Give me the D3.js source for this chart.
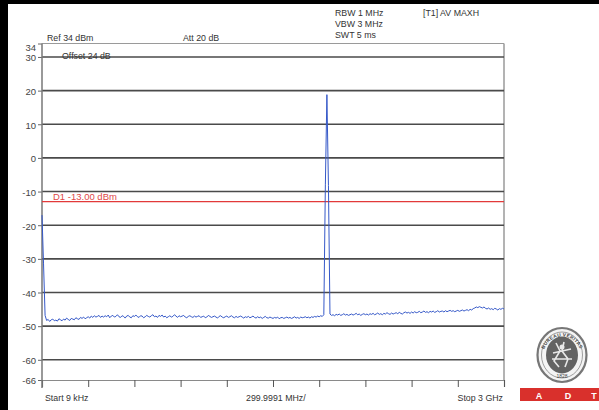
<!DOCTYPE html>
<html><head><meta charset="utf-8">
<script src="https://cdn.jsdelivr.net/npm/d3@7"></script>
<style>
body{margin:0;background:#fff;}
svg{display:block;font-family:"Liberation Sans",Arial,sans-serif;}
</style></head>
<body>
<svg id="chart" width="599" height="410"></svg>
<script>
// ---- data ----
const startMHz = 0.009, stopMHz = 3000;
const yTickValues = [34, 30, 20, 10, 0, -10, -20, -30, -40, -50, -60, -66];
const gridValues = [30, 20, 10, 0, -10, -20, -30, -40, -50, -60];
const limitLine = -13.0;
const limitLabel = "D1 -13.00 dBm";
const headerLeft = ["Ref 34 dBm", "Att 20 dB", "Offset 24 dB"];
const headerRight = ["RBW 1 MHz", "VBW 3 MHz", "SWT 5 ms", "[T1] AV MAXH"];
const footer = ["Start 9 kHz", "299.9991 MHz/", "Stop 3 GHz"];
const traceLevels = [
-17.0,-31.5,-46.8,-48.3,-48.0,-48.6,-48.1,-47.9,-48.4,-48.2,
-48.5,-47.8,-48.1,-48.4,-47.9,-48.2,-47.6,-48.0,-48.3,-47.7,
-47.9,-48.1,-47.5,-47.8,-48.0,-47.4,-47.7,-47.3,-47.8,-47.5,
-47.2,-47.6,-47.0,-47.4,-46.9,-47.3,-47.1,-46.8,-47.4,-47.0,
-47.3,-46.9,-47.2,-46.7,-47.5,-47.0,-46.8,-47.3,-47.1,-46.6,
-47.2,-47.4,-46.9,-47.1,-47.6,-47.0,-46.8,-47.3,-47.5,-46.9,
-47.1,-46.7,-47.2,-47.4,-46.9,-47.0,-47.5,-47.2,-46.8,-47.1,
-47.3,-46.9,-46.6,-47.2,-47.0,-47.4,-46.8,-47.1,-46.7,-47.3,
-47.0,-47.5,-47.2,-46.9,-47.3,-47.1,-46.6,-47.0,-47.4,-46.9,
-47.2,-47.0,-46.8,-47.3,-47.5,-47.1,-46.9,-47.2,-47.4,-47.0,
-47.3,-47.1,-46.9,-47.4,-47.2,-47.0,-47.5,-47.3,-46.8,-47.1,
-47.4,-47.2,-47.0,-47.3,-47.6,-47.1,-46.9,-47.3,-47.5,-47.2,
-47.0,-47.4,-47.2,-46.9,-47.3,-47.5,-47.1,-47.4,-47.2,-47.0,
-47.3,-47.6,-47.2,-47.4,-47.1,-47.5,-47.3,-47.0,-47.4,-47.6,
-47.2,-47.5,-47.3,-47.7,-47.4,-47.1,-47.5,-47.6,-47.3,-47.5,
-47.7,-47.4,-47.6,-47.3,-47.8,-47.5,-47.4,-47.7,-47.5,-47.3,
-47.6,-47.4,-47.7,-47.5,-47.2,-47.6,-47.4,-47.7,-47.3,-47.5,
-47.4,-47.2,-47.5,-47.3,-47.6,-47.2,-47.4,-47.1,-47.3,-47.0,
-47.2,-46.9,-47.1,-46.6,-8.0,18.8,-8.2,-46.4,-46.8,-46.6,
-46.9,-46.5,-46.7,-46.4,-46.8,-46.6,-46.3,-46.7,-46.5,-46.8,
-46.6,-46.4,-46.7,-46.5,-46.2,-46.6,-46.4,-46.8,-46.5,-46.3,
-46.6,-46.4,-46.7,-46.3,-46.5,-46.2,-46.6,-46.4,-46.1,-46.5,
-46.3,-46.6,-46.2,-46.4,-46.0,-46.3,-46.5,-46.1,-46.4,-46.2,
-46.0,-46.3,-45.9,-46.2,-46.4,-46.0,-45.8,-46.1,-45.9,-46.2,
-45.8,-46.1,-45.7,-46.0,-45.9,-45.6,-46.0,-45.8,-45.5,-45.9,
-45.7,-46.0,-45.6,-45.8,-45.5,-45.9,-45.7,-45.4,-45.8,-45.6,
-45.5,-45.8,-45.4,-45.7,-45.5,-45.3,-45.6,-45.4,-45.7,-45.5,
-45.3,-45.6,-45.4,-45.2,-45.5,-45.3,-45.1,-45.4,-45.0,-45.2,
-44.8,-44.6,-44.3,-44.5,-44.2,-44.4,-44.6,-44.3,-44.7,-44.9,
-44.6,-45.0,-44.8,-45.1,-44.7,-44.9,-45.2,-44.8,-45.0,-44.7,
-44.9
];

// ---- drawing ----
const svg = d3.select("#chart");
const L = 42, R = 504, T = 43.5, B = 380;
const x = d3.scaleLinear().domain([startMHz, stopMHz]).range([L, R]);
const y = d3.scaleLinear().domain([-66, 34]).range([B, T]);
const n = traceLevels.length;
const freqs = traceLevels.map((_, i) => startMHz + i * (stopMHz - startMHz) / (n - 1));

// black frame strips
svg.append("rect").attr("x", 0).attr("y", 0).attr("width", 599).attr("height", 4).attr("fill", "#000");
svg.append("rect").attr("x", 0).attr("y", 0).attr("width", 8).attr("height", 410).attr("fill", "#000");

// top & right border
svg.append("line").attr("x1", L).attr("x2", R).attr("y1", y(34)).attr("y2", y(34))
  .attr("stroke", "#9a9a9a").attr("stroke-width", 1.2);
svg.append("line").attr("x1", R).attr("x2", R).attr("y1", y(34)).attr("y2", y(-66))
  .attr("stroke", "#9a9a9a").attr("stroke-width", 1.5);

// grid lines
svg.append("g").selectAll("line").data(gridValues).join("line")
  .attr("x1", L).attr("x2", R).attr("y1", d => y(d)).attr("y2", d => y(d))
  .attr("stroke", "#4a4a4a").attr("stroke-width", 1.6);

// bottom axis
const xAxis = d3.axisBottom(x).tickValues(d3.range(11).map(i => startMHz + i * (stopMHz - startMHz) / 10))
  .tickSize(7).tickFormat("");
const gx = svg.append("g").attr("transform", `translate(0,${B})`).call(xAxis);
gx.select(".domain").attr("stroke", "#8a8a8a").attr("stroke-width", 1.2);
gx.selectAll(".tick line").attr("stroke", "#555");

// left axis
const yAxis = d3.axisLeft(y).tickValues(yTickValues).tickSize(4).tickPadding(2).tickFormat(d => d);
const gy = svg.append("g").attr("transform", `translate(${L},0)`).call(yAxis);
gy.select(".domain").remove();
svg.append("line").attr("x1", L).attr("x2", L).attr("y1", y(34)).attr("y2", B + 8)
  .attr("stroke", "#777").attr("stroke-width", 1.5);
gy.selectAll(".tick line").attr("stroke", "#666");
gy.selectAll(".tick text").attr("fill", "#444").attr("font-size", 9.5)
  .attr("font-family", "Liberation Sans, Arial, sans-serif")
  .attr("dy", d => d === 34 ? "0.7em" : "0.4em");

// limit line
svg.append("line").attr("x1", L).attr("x2", R).attr("y1", y(limitLine)).attr("y2", y(limitLine))
  .attr("stroke", "#e23a3a").attr("stroke-width", 1.3);
svg.append("text").attr("x", 53).attr("y", y(limitLine) - 2).text(limitLabel)
  .attr("fill", "#e04848").attr("font-size", 9.5);

// trace
const line = d3.line().x((d, i) => x(freqs[i])).y(d => y(d));
svg.append("path").datum(traceLevels).attr("d", line)
  .attr("fill", "none").attr("stroke", "#3558c8").attr("stroke-width", 1);

// header texts
const txt = (s, xx, yy, anchor) => svg.append("text").attr("x", xx).attr("y", yy).text(s)
  .attr("font-size", 8.8).attr("fill", "#333").attr("text-anchor", anchor || "start");
txt(headerLeft[0], 47, 41);
txt(headerLeft[1], 183, 41);
txt(headerLeft[2], 62, 59);
txt(headerRight[0], 335, 16);
txt(headerRight[1], 335, 27);
txt(headerRight[2], 335, 38);
txt(headerRight[3], 423, 16);
txt(footer[0], 45, 401);
txt(footer[1], 246, 401);
txt(footer[2], 503, 401, "end");

// logo (Bureau Veritas emblem)
const lg = svg.append("g").attr("transform", "translate(562,355)");
lg.append("ellipse").attr("rx", 24.5).attr("ry", 27).attr("fill", "#f4f4f4").attr("stroke", "#777").attr("stroke-width", 2.2);
lg.append("ellipse").attr("rx", 20.5).attr("ry", 23).attr("fill", "none").attr("stroke", "#888").attr("stroke-width", 0.8);
lg.append("ellipse").attr("rx", 16).attr("ry", 18.5).attr("fill", "#636363");
lg.append("path").attr("d", "M-6,-12 L-2,-4 L-8,6 L-3,12 M2,-13 L0,-4 L6,4 L3,12 M-9,-2 L9,-6 M-10,4 L10,4")
  .attr("stroke", "#e8e8e8").attr("stroke-width", 1.6).attr("fill", "none");
lg.append("circle").attr("cx", 0).attr("cy", -8).attr("r", 2.5).attr("fill", "#e8e8e8");
lg.append("text").attr("y", 23).attr("text-anchor", "middle").attr("font-size", 5).attr("fill", "#444").text("1828");
lg.append("path").attr("id", "arcTop").attr("d", "M-20,4 A19.5,22 0 0,1 20,4").attr("fill", "none");
lg.append("text").attr("font-size", 4.8).attr("fill", "#444").attr("font-weight", "bold").attr("letter-spacing", 0.3)
  .append("textPath").attr("href", "#arcTop").attr("startOffset", "50%").attr("text-anchor", "middle").text("BUREAU VERITAS");
svg.append("rect").attr("x", 520).attr("y", 388).attr("width", 79).attr("height", 13).attr("fill", "#d9302c");
[["A", 539], ["D", 568], ["T", 594]].forEach(([s, xx]) =>
  svg.append("text").attr("x", xx).attr("y", 398.5).attr("text-anchor", "middle").attr("font-size", 9)
    .attr("font-weight", "bold").attr("fill", "#fff").text(s));
</script>
</body></html>
